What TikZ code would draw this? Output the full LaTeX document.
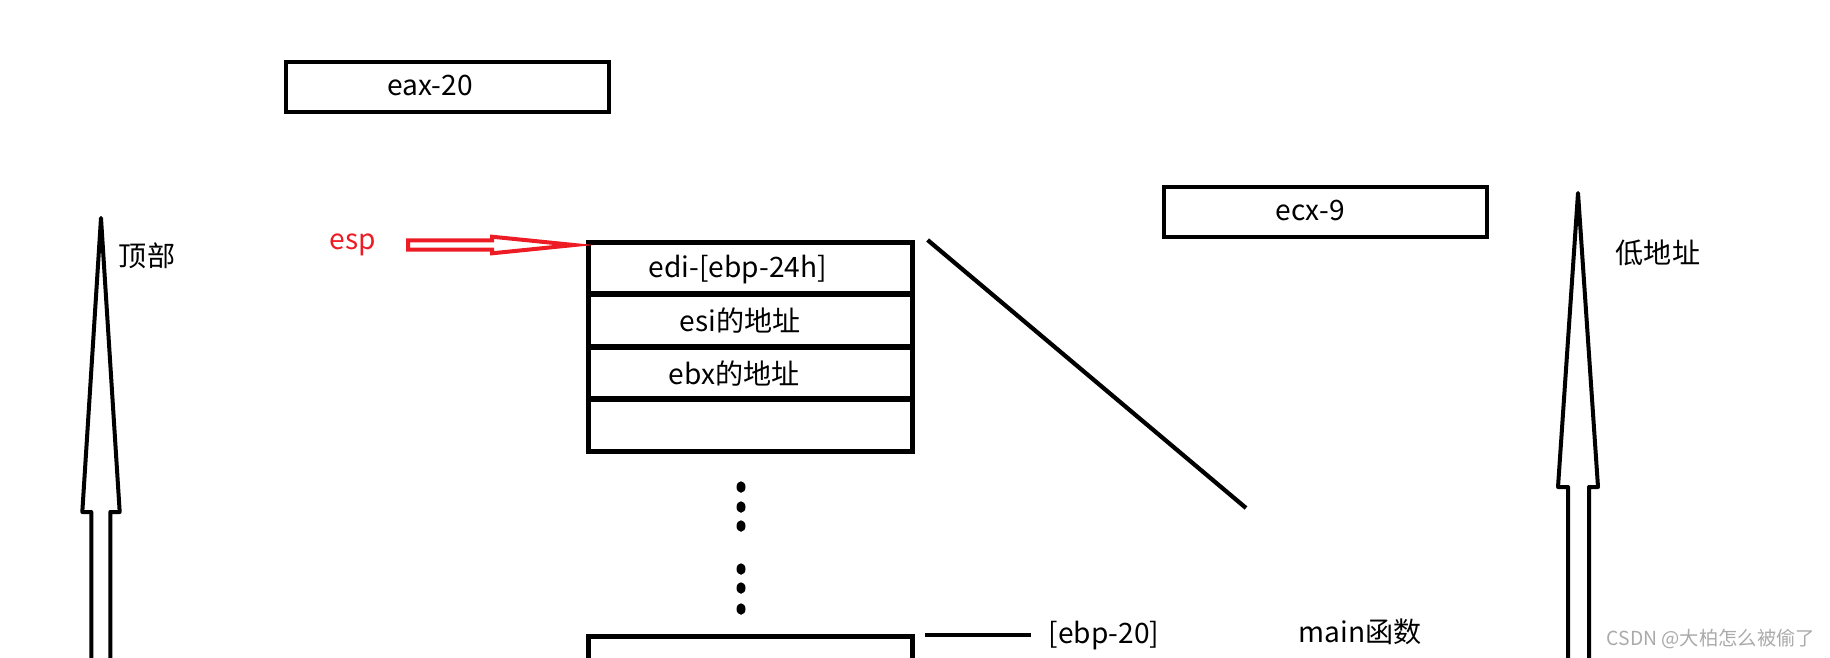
\documentclass[tikz,border=0pt]{standalone}
\usepackage{fontspec}
\setmainfont{Noto Sans CJK SC}
\definecolor{espred}{RGB}{237,28,36}
\definecolor{markgray}{RGB}{170,170,170}
\tikzset{
	cellbox/.style={shape=rectangle, draw, line width=0.95mm, minimum width=64.8mm, inner sep=0pt, outer sep=0pt},
	regbox/.style={shape=rectangle, draw, line width=0.9mm, minimum width=64.6mm, minimum height=10mm, inner sep=0pt, outer sep=0pt},
	lbl/.style={anchor=base, inner sep=0pt, font=\fontsize{16}{19}\selectfont},
	wire/.style={line width=0.85mm},
	hollow/.style={line width=0.8mm, line join=round},
}
\begin{document}
\begin{tikzpicture}[x=0.2mm, y=-0.2mm]
	\useasboundingbox (0,0) rectangle (1830,657);
	\clip (0,0) rectangle (1830,657);
	% Registers outside the stack:
	\node[regbox] (eaxbox) at (447.5,87){} node[lbl] (eax) at (430,95){eax-20};
	\node[regbox] (ecxbox) at (1325.5,212){} node[lbl] (ecx) at (1310,220){ecx-9};
	% Stack cells:
	\node[cellbox, minimum height=10.22mm] (edibox) at (750.2,267.85){} node[lbl] (edi) at (738,277){edi-[ebp-24h]};
	\node[cellbox, minimum height=10.22mm] (esibox) at (750.2,320.45){} node[lbl] (esi) at (740,331.7){esi的地址};
	\node[cellbox, minimum height=10.22mm] (ebxbox) at (750.2,373.05){} node[lbl] (ebx) at (734,384.3){ebx的地址};
	\node[cellbox, minimum height=10.22mm] (freebox) at (750.2,425.65){};
	\fill (741,487) ellipse [x radius=0.9mm, y radius=1.15mm] (741,507) ellipse [x radius=0.9mm, y radius=1.15mm] (741,526) ellipse [x radius=0.9mm, y radius=1.15mm];
	\fill (741,569) ellipse [x radius=0.9mm, y radius=1.15mm] (741,588) ellipse [x radius=0.9mm, y radius=1.15mm] (741,609) ellipse [x radius=0.9mm, y radius=1.15mm];
	\node[cellbox, minimum height=12mm] (lowbox) at (750.2,666.7){};
	% esp pointer:
	\node[lbl, text=espred] (esp) at (353,249){esp};
	\draw[line width=0.8mm, espred, line join=miter] (408,240.3) -- (492,240.3) -- (492,236.7) -- (574,245) -- (492,253.3) -- (492,249.7) -- (408,249.7) -- cycle;
	% Wires:
	\coordinate (diagend) at (1246,508);
	\draw[wire] ([shift={(15.4,-2.3)}]edibox.north east) -- (diagend);
	\node[lbl] (ebp) at (1104,643){[ebp-20]};
	\coordinate (ebpstub) at ([shift={(13,-1.5)}]lowbox.north east);
	\draw[wire] (ebpstub) -- ([xshift=-3.4mm]ebpstub -| ebp.west);
	\node[lbl] (mainfn) at (1360,642){main函数};
	% Address direction arrows:
	\draw[hollow] (91.3,690) -- (91.3,512) -- (82.3,512) -- (101,218) -- (119.7,512) -- (110.3,512) -- (110.3,690);
	\node[lbl] (topside) at (147,266){顶部};
	\draw[hollow] (1568,690) -- (1568,487) -- (1558,487) -- (1578,193) -- (1598,487) -- (1589,487) -- (1589,690);
	\node[lbl] (lowaddr) at (1658,263){低地址};
	\node[lbl, font=\fontsize{11}{13}\selectfont, text=markgray] (mark) at (1711,645){CSDN @大柏怎么被偷了};
\end{tikzpicture}
\end{document}
